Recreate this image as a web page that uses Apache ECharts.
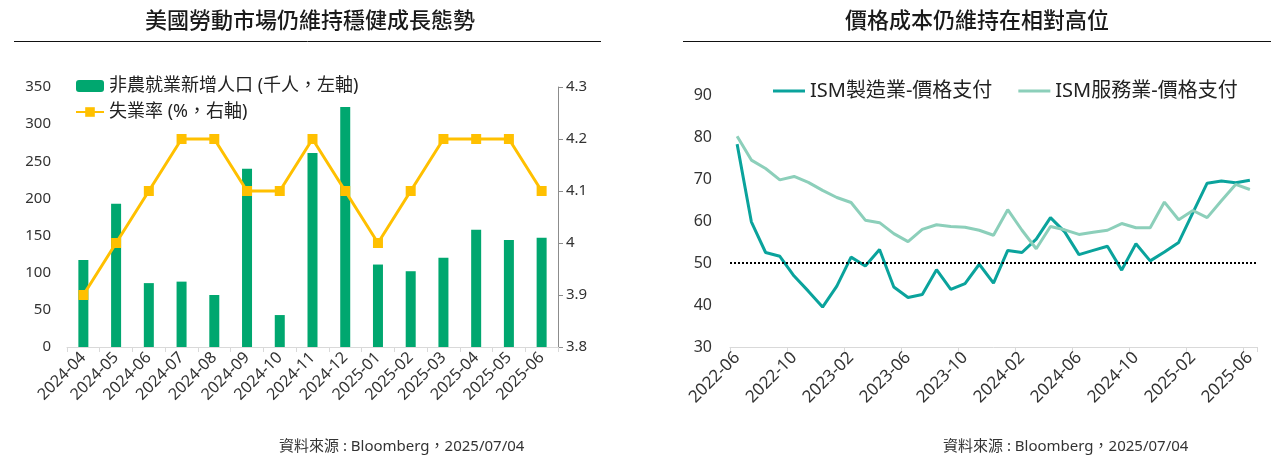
<!DOCTYPE html>
<html>
<head>
<meta charset="utf-8">
<script src="https://cdn.jsdelivr.net/npm/echarts@6/dist/echarts.min.js"></script>
<style>
html, body { margin: 0; padding: 0; background: #fff; }
#main { width: 1279px; height: 457px; }
</style>
</head>
<body>
<div id="main"></div>
<script>
// 左圖：非農就業 / 失業率
var months1 = ['2024-04', '2024-05', '2024-06', '2024-07', '2024-08', '2024-09', '2024-10', '2024-11',
	'2024-12', '2025-01', '2025-02', '2025-03', '2025-04', '2025-05', '2025-06'];
var payrolls = [117, 193, 86, 88, 70, 240, 43, 261, 323, 111, 102, 120, 158, 144, 147];
var unemp = [3.9, 4.0, 4.1, 4.2, 4.2, 4.1, 4.1, 4.2, 4.1, 4.0, 4.1, 4.2, 4.2, 4.2, 4.1];

// 右圖：ISM 價格支付
var months2 = ['2022-06', '2022-07', '2022-08', '2022-09', '2022-10', '2022-11', '2022-12',
	'2023-01', '2023-02', '2023-03', '2023-04', '2023-05', '2023-06', '2023-07', '2023-08', '2023-09',
	'2023-10', '2023-11', '2023-12', '2024-01', '2024-02', '2024-03', '2024-04', '2024-05', '2024-06',
	'2024-07', '2024-08', '2024-09', '2024-10', '2024-11', '2024-12', '2025-01', '2025-02', '2025-03',
	'2025-04', '2025-05', '2025-06'];
var ismMfg = [78.3, 59.8, 52.5, 51.6, 46.9, 43.3, 39.5, 44.5, 51.4, 49.3, 53.2, 44.3, 41.8, 42.5, 48.4,
	43.7, 45.1, 49.7, 45.2, 53.0, 52.5, 55.7, 60.8, 57.4, 52.0, 53.0, 54.0, 48.3, 54.6, 50.5, 52.6, 54.9,
	62.0, 69.0, 69.5, 69.1, 69.7];
var ismSvc = [80.2, 74.5, 72.5, 69.8, 70.6, 69.2, 67.3, 65.6, 64.4, 60.2, 59.6, 57.0, 55.1, 58.0, 59.1,
	58.7, 58.5, 57.8, 56.6, 62.7, 57.8, 53.4, 58.7, 57.9, 56.8, 57.3, 57.8, 59.4, 58.4, 58.4, 64.5, 60.3,
	62.5, 60.8, 64.8, 68.7, 67.5];

var ff = '"Noto Sans", "Noto Sans CJK TC", sans-serif';
var txt = '#333';
var chart = echarts.init(document.getElementById('main'));

var option = {
	animation: false,
	textStyle: { fontFamily: ff },
	title: [
		{ text: '美國勞動市場仍維持穩健成長態勢', left: 305, top: 6, textAlign: 'center',
			textStyle: { fontSize: 22, fontWeight: 500, color: '#1a1a1a', fontFamily: ff } },
		{ text: '價格成本仍維持在相對高位', left: 972, top: 6, textAlign: 'center',
			textStyle: { fontSize: 22, fontWeight: 500, color: '#1a1a1a', fontFamily: ff } }
	],
	graphic: [
		{ type: 'line', shape: { x1: 14, y1: 41.5, x2: 601, y2: 41.5 }, style: { stroke: '#111', lineWidth: 1 } },
		{ type: 'line', shape: { x1: 683, y1: 41.5, x2: 1271, y2: 41.5 }, style: { stroke: '#111', lineWidth: 1 } },
		{ type: 'text', left: 279, top: 439, style: { text: '資料來源 : Bloomberg，2025/07/04', fontSize: 15, fill: txt, fontFamily: ff } },
		{ type: 'text', left: 943, top: 439, style: { text: '資料來源 : Bloomberg，2025/07/04', fontSize: 15, fill: txt, fontFamily: ff } }
	],
	legend: [
		{
			orient: 'vertical', left: 70, top: 72, itemGap: 8,
			itemWidth: 28, itemHeight: 12,
			textStyle: { fontSize: 18, color: '#222' },
			data: ['非農就業新增人口 (千人，左軸)', '失業率 (%，右軸)']
		},
		{
			orient: 'horizontal', left: 768, top: 76, itemGap: 26,
			itemWidth: 32, itemHeight: 3, icon: 'rect',
			textStyle: { fontSize: 20, color: '#222' },
			data: ['ISM製造業-價格支付', 'ISM服務業-價格支付']
		}
	],
	grid: [
		{ left: 67, right: 721, top: 87, bottom: 110 },
		{ left: 730, right: 22, top: 95, bottom: 110 }
	],
	xAxis: [
		{
			type: 'category', gridIndex: 0, data: months1, boundaryGap: true,
			axisLine: { lineStyle: { color: '#d9d9d9' } },
			axisTick: { show: true, length: 5, lineStyle: { color: '#d9d9d9' } },
			axisLabel: { rotate: 45, fontSize: 16, color: txt, margin: 8, interval: 0 }
		},
		{
			type: 'category', gridIndex: 1, data: months2, boundaryGap: true,
			axisLine: { lineStyle: { color: '#d9d9d9' } },
			axisTick: { show: true, length: 5, interval: 3, lineStyle: { color: '#d9d9d9' } },
			axisLabel: { rotate: 45, fontSize: 17, color: txt, margin: 8, interval: 3 }
		}
	],
	yAxis: [
		{
			type: 'value', gridIndex: 0, min: 0, max: 350, interval: 50,
			axisLine: { show: false }, axisTick: { show: false }, splitLine: { show: false },
			axisLabel: { fontSize: 15, color: txt, margin: 16 }
		},
		{
			type: 'value', gridIndex: 0, position: 'right', min: 3.8, max: 4.3, interval: 0.1,
			axisLine: { show: true, lineStyle: { color: '#8c8c8c' } },
			axisTick: { show: true, length: 5, lineStyle: { color: '#8c8c8c' } },
			splitLine: { show: false },
			axisLabel: { fontSize: 15, color: txt, margin: 8,
				formatter: function (v) { return String(Math.round(v * 10) / 10); } }
		},
		{
			type: 'value', gridIndex: 1, min: 30, max: 90, interval: 10,
			axisLine: { show: false }, axisTick: { show: false }, splitLine: { show: false },
			axisLabel: { fontSize: 16, color: txt, margin: 18 }
		}
	],
	series: [
		{
			name: '非農就業新增人口 (千人，左軸)', type: 'bar', xAxisIndex: 0, yAxisIndex: 0,
			data: payrolls, barWidth: 10, itemStyle: { color: '#00a76f' }
		},
		{
			name: '失業率 (%，右軸)', type: 'line', xAxisIndex: 0, yAxisIndex: 1,
			data: unemp, symbol: 'rect', symbolSize: 10,
			lineStyle: { color: '#ffc000', width: 3 },
			itemStyle: { color: '#ffc000' }
		},
		{
			name: 'ISM製造業-價格支付', type: 'line', xAxisIndex: 1, yAxisIndex: 2,
			data: ismMfg, symbol: 'none',
			lineStyle: { color: '#0aa39c', width: 3 },
			itemStyle: { color: '#0aa39c' },
			markLine: {
				silent: true, symbol: 'none', label: { show: false },
				lineStyle: { color: '#000', type: 'dotted', width: 2 },
				data: [{ yAxis: 50 }]
			}
		},
		{
			name: 'ISM服務業-價格支付', type: 'line', xAxisIndex: 1, yAxisIndex: 2,
			data: ismSvc, symbol: 'none',
			lineStyle: { color: '#8ccfba', width: 3 },
			itemStyle: { color: '#8ccfba' }
		}
	]
};

chart.setOption(option);
window.addEventListener('resize', chart.resize);
</script>
</body>
</html>
